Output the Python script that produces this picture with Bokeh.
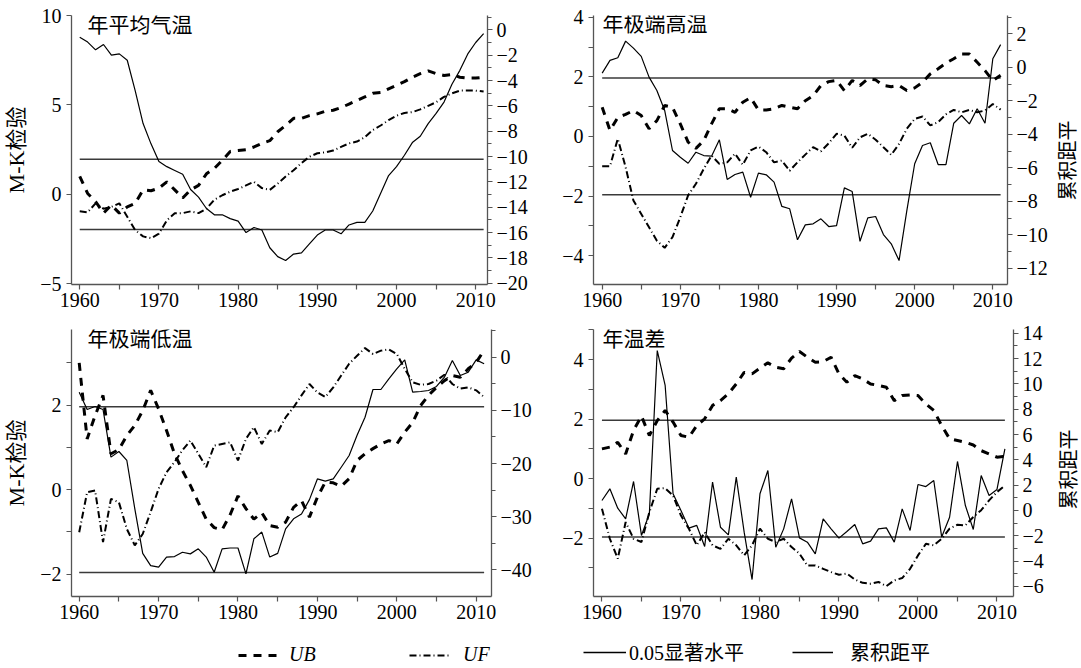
import math
from bokeh.plotting import figure
from bokeh.models import Range1d, LinearAxis, FixedTicker, Label, Legend, LegendItem
from bokeh.layouts import column, row
from bokeh.embed import file_html
from bokeh.resources import INLINE

years = list(range(1960, 2012))

# 年平均气温
mean_ub = [1.0, 0.05, -0.4, -1.05, -0.6, -1.05, -0.7, -0.5, 0.25, 0.2,
           0.35, 0.7, 0.25, -0.2, 0.25, 0.5, 1.15, 1.45, 1.9, 2.4,
           2.45, 2.5, 2.65, 2.85, 3.0, 3.5, 3.85, 4.25, 4.25, 4.4,
           4.5, 4.65, 4.7, 4.85, 5.05, 5.25, 5.45, 5.65, 5.7, 5.9,
           6.1, 6.3, 6.55, 6.75, 6.9, 6.75, 6.65, 6.7, 6.55, 6.5,
           6.5, 6.55]
mean_uf = [-0.95, -1.0, -0.5, -0.8, -0.7, -0.5, -1.25, -2.0, -2.35, -2.45,
           -2.2, -1.45, -1.05, -1.05, -0.95, -1.05, -0.8, -0.3, -0.05, 0.15,
           0.3, 0.5, 0.7, 0.35, 0.25, 0.6, 1.0, 1.35, 1.75, 2.1,
           2.3, 2.35, 2.45, 2.65, 2.85, 2.95, 3.2, 3.6, 3.85, 4.15,
           4.4, 4.55, 4.6, 4.75, 4.95, 5.15, 5.45, 5.65, 5.8, 5.8,
           5.8, 5.75]
mean_cum = [-0.58, -0.97, -1.58, -1.16, -2.0, -1.9, -2.4, -4.8, -7.4, -9.0,
            -10.4, -10.8, -11.1, -11.4, -12.6, -13.2, -14.1, -14.6, -14.6, -14.9,
            -15.1, -16.0, -15.6, -15.8, -17.2, -17.9, -18.2, -17.7, -17.6, -16.9,
            -16.2, -15.8, -15.8, -16.1, -15.4, -15.2, -15.2, -14.3, -12.9, -11.5,
            -10.8, -9.9, -8.9, -8.4, -7.4, -6.6, -5.7, -4.3, -3.2, -1.9,
            -1.0, -0.3]

# 年极端高温
high_ub = [0.98, 0.2, 0.64, 0.74, 0.87, 0.70, 0.26, 0.53, 1.04, 0.98,
           0.42, -0.19, -0.4, -0.14, 0.42, 0.93, 0.93, 0.81, 1.15, 1.30,
           0.89, 0.89, 0.93, 1.04, 0.98, 0.93, 1.2, 1.37, 1.71, 1.84,
           1.88, 1.54, 1.88, 1.71, 1.93, 1.9, 1.71, 1.67, 1.71, 1.54,
           1.63, 1.82, 2.10, 2.27, 2.46, 2.61, 2.77, 2.77, 2.49, 2.21,
           1.88, 2.05]
high_uf = [-1.0, -1.0, -0.08, -1.03, -2.15, -2.6, -3.05, -3.5, -3.74, -3.38,
           -2.71, -1.98, -1.59, -1.09, -0.64, -0.92, -0.87, -0.58, -0.95, -0.47,
           -0.34, -0.53, -0.87, -0.81, -1.15, -0.87, -0.61, -0.36, -0.5, -0.23,
           0.09, 0.03, -0.38, -0.03, 0.09, -0.11, -0.36, -0.62, -0.25, 0.26,
           0.59, 0.67, 0.37, 0.48, 0.74, 0.89, 0.81, 0.89, 0.81, 0.87,
           1.09, 0.9]
high_cum = [-0.35, 0.41, 0.57, 1.56, 1.14, 0.65, -0.59, -1.39, -2.58, -4.97,
            -5.37, -5.73, -5.07, -5.27, -5.31, -4.33, -6.70, -6.40, -6.26, -7.76,
            -6.32, -6.42, -6.86, -8.31, -8.45, -10.30, -9.41, -9.35, -9.05, -9.51,
            -9.45, -7.20, -7.42, -10.39, -8.99, -8.91, -9.99, -10.54, -11.54, -8.55,
            -5.76, -4.67, -4.51, -5.81, -5.81, -3.34, -2.88, -3.38, -2.48, -3.34,
            0.51, 1.35]

# 年极端低温
low_ub = [3.0, 1.2, 1.75, 2.23, 0.85, 0.95, 1.28, 1.52, 1.87, 2.35,
          1.91, 1.4, 0.85, 0.45, 0.1, -0.3, -0.7, -0.9, -0.95, -0.6,
          -0.15, -0.45, -0.7, -0.55, -0.85, -0.89, -0.77, -0.42, -0.26, -0.65,
          -0.18, 0.18, 0.16, 0.08, 0.26, 0.69, 0.85, 0.97, 1.08, 1.16,
          1.08, 1.36, 1.59, 1.99, 2.23, 2.42, 2.58, 2.70, 2.66, 2.86,
          3.01, 3.3]
low_uf = [-1.01, -0.06, -0.02, -1.24, -0.22, -0.3, -0.93, -1.32, -1.05, -0.53,
          0.02, 0.41, 0.65, 0.93, 1.16, 0.85, 0.53, 1.04, 1.08, 1.12,
          0.69, 1.2, 1.48, 1.08, 1.4, 1.36, 1.71, 1.95, 2.23, 2.50,
          2.30, 2.19, 2.42, 2.70, 2.98, 3.17, 3.35, 3.21, 3.29, 3.32,
          3.21, 2.86, 2.54, 2.48, 2.50, 2.58, 2.72, 2.5, 2.39, 2.42,
          2.35, 2.19]
low_cum = [-6.58, -9.84, -9.28, -9.84, -18.8, -17.74, -19.43, -28.5, -36.9, -39.2,
           -39.5, -37.6, -37.5, -36.7, -37.0, -36.05, -37.6, -40.45, -36.05, -35.9,
           -35.9, -40.76, -34.17, -32.9, -37.6, -36.9, -32.3, -30.4, -29.5, -26.8,
           -22.9, -23.3, -22.9, -20.7, -18.5, -14.7, -11.3, -6.08, -6.08, -4.07,
           -2.19, -0.5, -6.58, -6.45, -6.27, -5.5, -3.76, -0.62, -3.44, -2.82,
           -0.5, -1.25]

# 年温差
range_ub = [1.0, 1.06, 1.22, 0.83, 1.62, 2.1, 1.45, 1.95, 2.29, 1.9,
            1.45, 1.39, 1.78, 2.01, 2.46, 2.62, 2.85, 3.18, 3.57, 3.52,
            3.71, 3.89, 3.74, 3.69, 4.05, 4.27, 4.08, 3.91, 3.93, 4.08,
            3.52, 3.24, 3.46, 3.35, 3.18, 3.13, 3.07, 2.62, 2.79, 2.81,
            2.79, 2.51, 2.29, 1.78, 1.34, 1.28, 1.22, 1.13, 0.94, 0.83,
            0.72, 0.75]
range_uf = [-1.01, -2.02, -2.69, -1.46, -2.02, -2.13, -1.13, -0.34, -0.32, -0.57,
            -1.24, -1.68, -2.24, -1.8, -2.24, -2.36, -2.02, -2.24, -2.58, -2.24,
            -1.68, -2.02, -2.13, -2.02, -2.3, -2.52, -2.92, -2.92, -3.03, -3.14,
            -3.23, -3.19, -3.39, -3.5, -3.53, -3.47, -3.61, -3.42, -3.34, -3.03,
            -2.58, -2.19, -2.24, -2.02, -1.68, -1.55, -1.57, -1.29, -1.06, -0.73,
            -0.45, -0.23]
range_cum = [0.79, 1.71, 0.18, -0.66, 2.29, -1.97, -0.26, 12.63, 9.87, 1.32,
             0.0, -1.39, -1.18, -2.84, 2.24, -1.32, -1.92, 2.63, -1.71, -5.45,
             1.32, 3.16, -2.9, -1.45, 0.92, -2.16, -2.5, -3.42, -0.66, -1.45,
             -2.18, -1.66, -1.1, -2.63, -2.42, -1.45, -1.37, -2.5, 0.13, -1.58,
             2.05, 1.89, 2.37, -2.1, -0.53, 3.87, 0.39, -1.5, 2.76, 1.18,
             1.66, 4.87]

titles = ["年平均气温", "年极端高温", "年极端低温", "年温差"]
left_label = "M-K检验"
right_label = "累积距平"
legend_labels = ["UB", "UF", "0.05显著水平", "累积距平"]
sig_level = 1.96
x_major = [1960, 1970, 1980, 1990, 2000, 2010]
x_minor = [1965, 1975, 1985, 1995, 2005]

NUM_FONT = "Liberation Serif"
CJK_FONT = "Noto Sans CJK SC"
MIX_FONT = "Liberation Serif, Noto Sans CJK SC"
AXIS_COLOR = "#555555"

UB_STYLE = dict(line_color="black", line_width=3, line_dash="8 7")
UF_STYLE = dict(line_color="black", line_width=2, line_dash="7 3 1 3")
CUM_STYLE = dict(line_color="black", line_width=1.2)
SIG_STYLE = dict(line_color="#3a3a3a", line_width=1.5)


def fmt(v):
    return (f"{v:g}").replace("-", "\u2212")


def style_axis(ax, ticks, minors, out_major, out_minor, standoff):
    ax.ticker = FixedTicker(ticks=ticks, minor_ticks=minors)
    ax.major_label_overrides = {t: fmt(t) for t in ticks}
    ax.axis_line_color = AXIS_COLOR
    ax.axis_line_width = 1.3
    ax.major_tick_line_color = AXIS_COLOR
    ax.minor_tick_line_color = AXIS_COLOR
    ax.major_tick_line_width = 1.2
    ax.minor_tick_line_width = 1.2
    ax.major_tick_in = 0
    ax.minor_tick_in = 0
    ax.major_tick_out = out_major
    ax.minor_tick_out = out_minor
    ax.major_label_text_font = NUM_FONT
    ax.major_label_text_font_size = "20px"
    ax.major_label_text_color = "black"
    ax.major_label_standoff = standoff


def bare_figure(w, h, xr=(0, 1), yr=(0, 1)):
    f = figure(width=w, height=h, output_backend="svg", toolbar_location=None,
               x_range=Range1d(*xr), y_range=Range1d(*yr),
               x_axis_type=None, y_axis_type=None,
               min_border_left=0, min_border_right=0, min_border_top=0, min_border_bottom=0)
    f.outline_line_color = None
    f.background_fill_color = "white"
    f.border_fill_color = "white"
    return f


def panel(cfg, ub, uf, cum, title):
    L, R, T, B = cfg["borders"]
    p = figure(width=cfg["w"], height=cfg["h"], output_backend="svg",
               toolbar_location=None,
               x_range=Range1d(*cfg["xr"]), y_range=Range1d(*cfg["yl"]),
               min_border_left=L, min_border_right=R,
               min_border_top=T, min_border_bottom=B)
    p.extra_y_ranges = {"cum": Range1d(*cfg["yr"])}
    p.outline_line_color = None
    p.xgrid.visible = False
    p.ygrid.visible = False
    p.background_fill_color = "white"
    p.border_fill_color = "white"

    style_axis(p.xaxis[0], x_major, x_minor, 5, 5, 3)
    style_axis(p.yaxis[0], cfg["lt"], cfg["lm"], 5, 5, 5)
    if cfg["left_label"]:
        p.yaxis[0].axis_label = left_label
        p.yaxis[0].axis_label_text_font = MIX_FONT
        p.yaxis[0].axis_label_text_font_size = "22px"
        p.yaxis[0].axis_label_text_font_style = "normal"
        p.yaxis[0].axis_label_text_color = "black"
        p.yaxis[0].axis_label_standoff = 8

    rax = LinearAxis(y_range_name="cum")
    style_axis(rax, cfg["rt"], cfg["rm"], 5, 4, 4)
    p.add_layout(rax, "right")

    xs = [years[0], years[-1]]
    p.line(xs, [sig_level, sig_level], **SIG_STYLE)
    p.line(xs, [-sig_level, -sig_level], **SIG_STYLE)
    p.line(years, cum, y_range_name="cum", **CUM_STYLE)
    p.line(years, uf, **UF_STYLE)
    p.line(years, ub, **UB_STYLE)

    fh = cfg["h"] - T - B
    p.add_layout(Label(x=cfg["tx"], y=fh + cfg["ty"], x_units="screen", y_units="screen",
                       text=title, text_font=CJK_FONT, text_font_size="21px",
                       text_baseline="top", text_align="left", text_color="black"))
    return p


def side_label(h, lx, ly):
    f = bare_figure(31, h)
    f.add_layout(Label(x=lx, y=ly, x_units="screen", y_units="screen",
                       text=right_label, text_font=CJK_FONT, text_font_size="20px",
                       text_align="center", text_baseline="middle",
                       angle=math.pi / 2, text_color="black"))
    return f


cfgs = [
    dict(w=540, h=317, borders=(71, 53, 15, 33), xr=(1958.96, 2011.49),
         yl=(-5.04, 10), yr=(-20.1, 1.13),
         lt=[-5, 0, 5, 10], lm=[],
         rt=list(range(-20, 1, 2)), rm=list(range(-19, 2, 2)),
         left_label=True, tx=16, ty=8),
    dict(w=510, h=317, borders=(53, 41, 15, 33), xr=(1958.89, 2011.88),
         yl=(-4.97, 4.06), yr=(-12.97, 3.09),
         lt=[-4, -2, 0, 2, 4], lm=[-3, -1, 1, 3],
         rt=list(range(-12, 3, 2)), rm=list(range(-11, 4, 2)),
         left_label=False, tx=9, ty=9),
    dict(w=540, h=310, borders=(71, 49, 12, 31), xr=(1959.03, 2011.93),
         yl=(-2.53, 3.79), yr=(-45.02, 5.21),
         lt=[-2, 0, 2], lm=[-1, 1, 3],
         rt=list(range(-40, 1, 10)), rm=list(range(-35, 6, 10)),
         left_label=True, tx=16, ty=8),
    dict(w=510, h=310, borders=(53, 37, 12, 31), xr=(1958.93, 2012.09),
         yl=(-3.96, 5.01), yr=(-6.79, 14.29),
         lt=[-4, -2, 0, 2, 4], lm=[-3, -1, 1, 3, 5],
         rt=list(range(-6, 15, 2)), rm=list(range(-5, 14, 2)),
         left_label=False, tx=9, ty=8),
]

series = [(mean_ub, mean_uf, mean_cum), (high_ub, high_uf, high_cum),
          (low_ub, low_uf, low_cum), (range_ub, range_uf, range_cum)]

plots = [panel(c, *s, t) for c, s, t in zip(cfgs, series, titles)]
lab_top = side_label(317, 15.5, 124)
lab_bot = side_label(310, 16.5, 127)

# legend strip (its renderers carry real series, but lie outside the strip's view)
lf = bare_figure(1081, 41)
r_ub = lf.line(years, mean_ub, **UB_STYLE)
r_uf = lf.line(years, mean_uf, **UF_STYLE)
r_sig = lf.line([years[0], years[-1]], [sig_level, sig_level], line_color="black", line_width=1.3)
r_cum = lf.line(years, mean_cum, line_color="black", line_width=1.3)

leg_specs = [
    (legend_labels[0], r_ub, 238, 44, 7, NUM_FONT, "italic"),
    (legend_labels[1], r_uf, 409, 41, 13, NUM_FONT, "italic"),
    (legend_labels[2], r_sig, 583, 43, 3, MIX_FONT, "normal"),
    (legend_labels[3], r_cum, 792, 41, 17, CJK_FONT, "normal"),
]
for lab, rend, lx, gw, so, fnt, sty in leg_specs:
    lg = Legend(items=[LegendItem(label=lab, renderers=[rend])],
                location=(lx, 2), orientation="horizontal",
                glyph_width=gw, glyph_height=20, label_standoff=so,
                padding=0, margin=0, spacing=0,
                border_line_color=None, background_fill_alpha=0,
                label_text_font=fnt, label_text_font_style=sty,
                label_text_font_size="20px", label_text_color="black")
    lf.add_layout(lg)

layout = column(row(plots[0], plots[1], lab_top), row(plots[2], plots[3], lab_bot), lf)

with open("out.html", "w") as f:
    f.write(file_html(layout, INLINE))
